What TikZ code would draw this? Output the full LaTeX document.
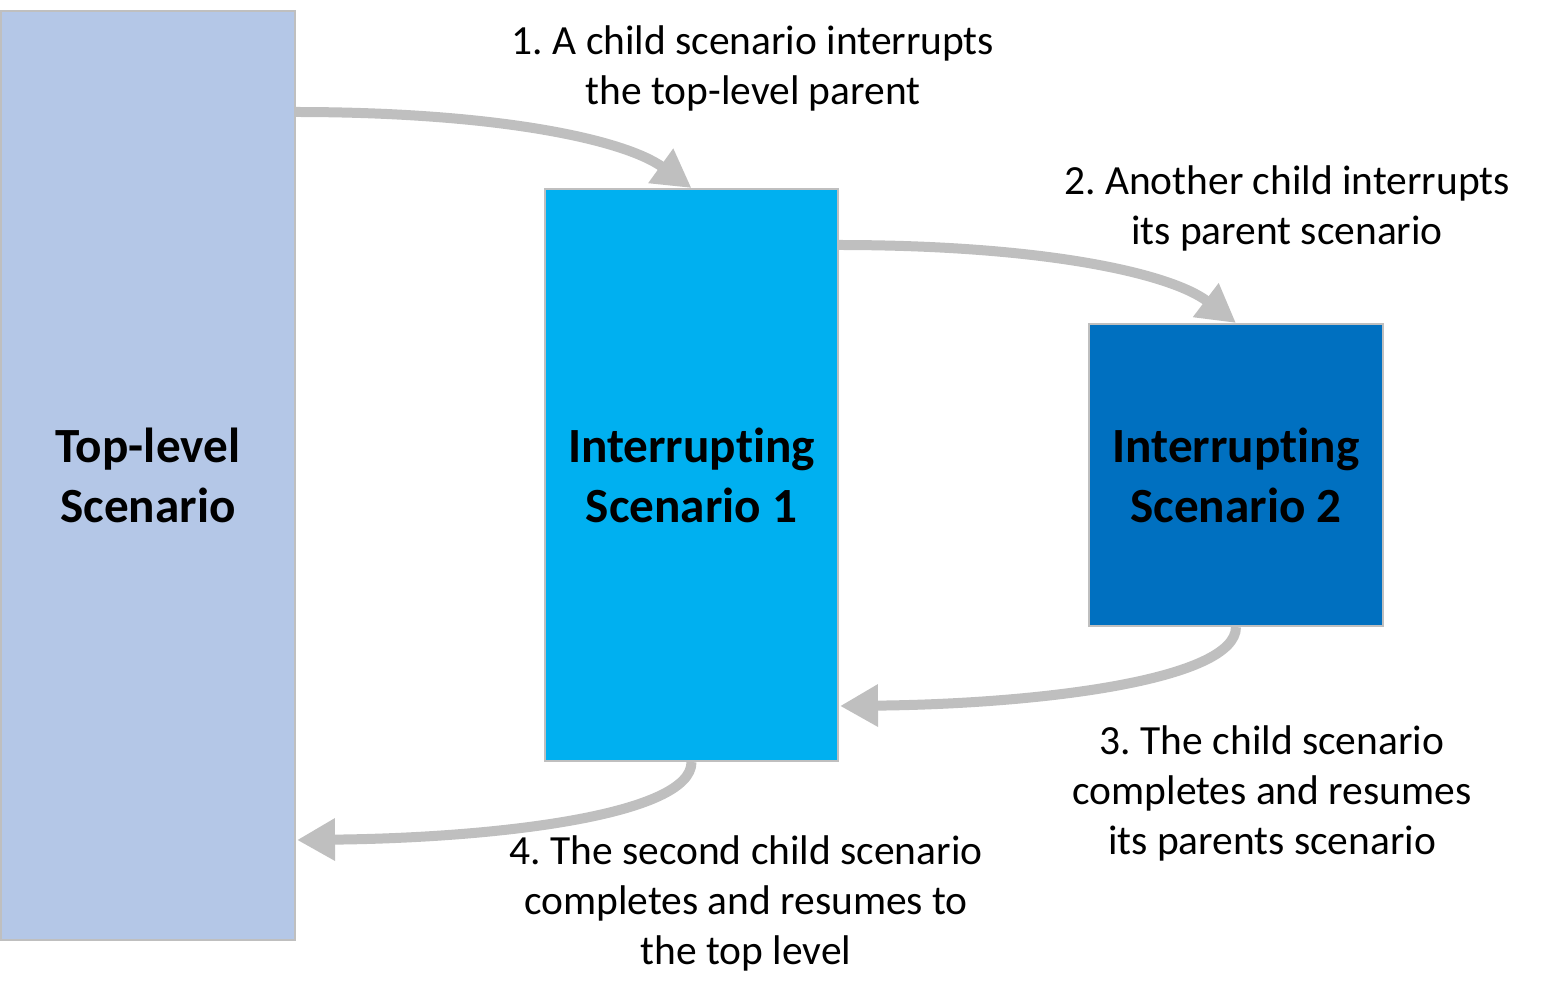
\documentclass[tikz,border=0pt]{standalone}
\usepackage{fontspec}
\setmainfont{Carlito}[Ligatures=NoCommon]
\frenchspacing
\usetikzlibrary{arrows.meta}
\definecolor{boxgray}{HTML}{BFBFBF}
\definecolor{toplevel}{HTML}{B4C7E7}
\definecolor{int1}{HTML}{00B0F0}
\definecolor{int2}{HTML}{0070C0}
\tikzset{
  scen/.style={draw=boxgray, line width=0.04cm, inner sep=0pt, align=center,
    font=\fontsize{28}{34.1}\selectfont\bfseries, text=black},
  flow/.style={draw=boxgray, line width=0.2cm,
    -{Triangle[length=0.76cm,width=0.8cm]}},
  lbl/.style={align=center, inner sep=0pt, text=black,
    font=\fontsize{23.6}{28.45}\selectfont\frenchspacing}
}
\begin{document}
\begin{tikzpicture}[x=0.02cm,y=-0.02cm]
\useasboundingbox (0,0) rectangle (1546,999);
\node[scen, fill=toplevel, minimum width=5.88cm, minimum height=18.58cm] (b1) at (148,475.5) {Top-level\\Scenario};
\node[scen, fill=int1, minimum width=5.86cm, minimum height=11.44cm] (b2) at (691.5,475) {Interrupt\kern0pt ing\\Scenario 1};
\node[scen, fill=int2, minimum width=5.88cm, minimum height=6.04cm] (b3) at (1236,475) {Interrupt\kern0pt ing\\Scenario 2};
\coordinate (s1) at (295,112);
\coordinate (s2) at (838,245);
\coordinate (e3) at (840,706);
\coordinate (e4) at (297,840);
\draw[flow] (s1) .. controls (500,112) and (625,140) .. (b2.north);
\draw[flow] (s2) .. controls (1043,245) and (1170,273) .. (b3.north);
\draw[flow] (b3.south) .. controls (1236,680) and (1040,704) .. (e3);
\draw[flow] (b2.south) .. controls (692,815) and (497,838) .. (e4);
\node[lbl] (l1) at (753,68) {1. A child scenario interrupts\\the top-level parent};
\node[lbl] (l2) at (1287,208) {2. Another child interrupts\\its parent scenario};
\node[lbl] (l3) at (1272,793) {3. The child scenario\\completes and resumes\\its parents scenario};
\node[lbl] (l4) at (746,903) {4. The second child scenario\\completes and resumes to\\the top level};
\end{tikzpicture}
\end{document}
